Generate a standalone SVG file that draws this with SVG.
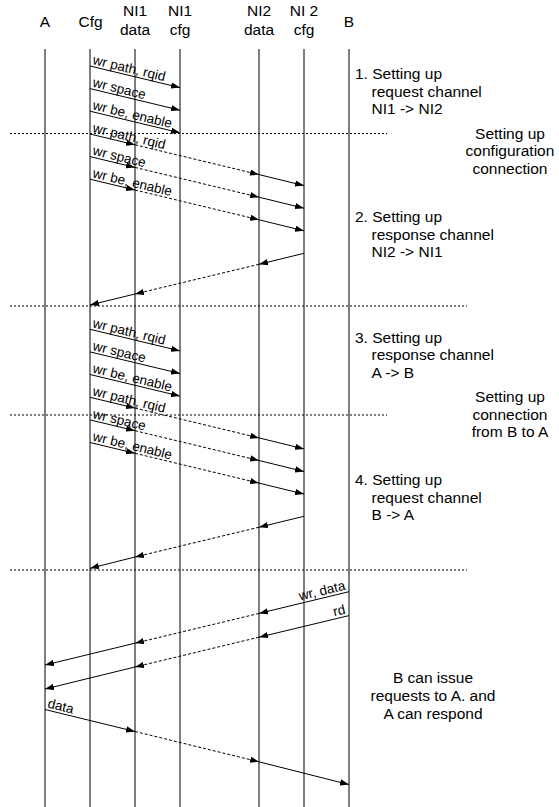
<svg xmlns="http://www.w3.org/2000/svg" width="559" height="807" viewBox="0 0 559 807">
<style>
text{font-family:"Liberation Sans",Arial,sans-serif;fill:#000}
.hd{font-size:15.5px;text-anchor:middle}
.nt{font-size:15.5px}
.ct{font-size:15.5px;text-anchor:middle}
.lb{font-size:13.5px}
.life{stroke:#000;stroke-width:1;fill:none}
.sep{stroke:#000;stroke-width:1;stroke-dasharray:2 2;fill:none}
.s{stroke:#000;stroke-width:1;fill:none;marker-end:url(#ah)}
.d{stroke:#000;stroke-width:1;fill:none;stroke-dasharray:3 2;marker-end:url(#ah)}
</style>
<defs>
<marker id="ah" viewBox="0 0 10 7" refX="10" refY="3.5" markerWidth="9" markerHeight="6.3" markerUnits="userSpaceOnUse" orient="auto">
<path d="M0,0 L10,3.5 L0,7 z" fill="#000"/>
</marker>
</defs>
<rect width="559" height="807" fill="#fff"/>
<g id="lifelines">
<g id="A"><text class="hd" x="45" y="27">A</text><line class="life" x1="45" y1="49" x2="45" y2="807"/></g>
<g id="Cfg"><text class="hd" x="90.5" y="27">Cfg</text><line class="life" x1="90" y1="49" x2="90" y2="807"/></g>
<g id="NI1data"><text class="hd" x="135" y="16">NI1</text><text class="hd" x="135" y="35">data</text><line class="life" x1="135" y1="49" x2="135" y2="807"/></g>
<g id="NI1cfg"><text class="hd" x="180" y="16">NI1</text><text class="hd" x="180" y="35">cfg</text><line class="life" x1="180" y1="49" x2="180" y2="807"/></g>
<g id="NI2data"><text class="hd" x="259" y="16">NI2</text><text class="hd" x="259" y="35">data</text><line class="life" x1="259" y1="49" x2="259" y2="807"/></g>
<g id="NI2cfg"><text class="hd" x="304" y="16">NI 2</text><text class="hd" x="304" y="35">cfg</text><line class="life" x1="304" y1="49" x2="304" y2="807"/></g>
<g id="B"><text class="hd" x="349" y="27">B</text><line class="life" x1="349" y1="49" x2="349" y2="807"/></g>
</g>
<g id="separators">
<line class="sep" x1="10" y1="133.5" x2="387" y2="133.5"/>
<line class="sep" x1="10" y1="306" x2="467" y2="306"/>
<line class="sep" x1="10" y1="415" x2="387" y2="415"/>
<line class="sep" x1="10" y1="570" x2="467" y2="570"/>
</g>
<g id="connectors">
<line class="s" x1="90" y1="66" x2="180" y2="87.6"/>
<line class="s" x1="90" y1="88.6" x2="180" y2="110.2"/>
<line class="s" x1="90" y1="111.2" x2="180" y2="132.8"/>
<line class="s" x1="90" y1="134" x2="135" y2="144.8"/>
<line class="d" x1="135" y1="144.8" x2="259" y2="174.6"/>
<line class="s" x1="259" y1="174.6" x2="304" y2="185.6"/>
<line class="s" x1="90" y1="156.6" x2="135" y2="167.4"/>
<line class="d" x1="135" y1="167.4" x2="259" y2="197.2"/>
<line class="s" x1="259" y1="197.2" x2="304" y2="208.2"/>
<line class="s" x1="90" y1="179.2" x2="135" y2="190"/>
<line class="d" x1="135" y1="190" x2="259" y2="219.8"/>
<line class="s" x1="259" y1="219.8" x2="304" y2="230.8"/>
<line class="s" x1="304" y1="253.3" x2="259" y2="264.3"/>
<line class="d" x1="259" y1="264.3" x2="135" y2="294"/>
<line class="s" x1="135" y1="294" x2="90" y2="305"/>
<line class="s" x1="90" y1="329.3" x2="180" y2="350.9"/>
<line class="s" x1="90" y1="351.9" x2="180" y2="373.5"/>
<line class="s" x1="90" y1="374.5" x2="180" y2="396.1"/>
<line class="s" x1="90" y1="397.3" x2="135" y2="408.1"/>
<line class="d" x1="135" y1="408.1" x2="259" y2="437.9"/>
<line class="s" x1="259" y1="437.9" x2="304" y2="448.9"/>
<line class="s" x1="90" y1="419.9" x2="135" y2="430.7"/>
<line class="d" x1="135" y1="430.7" x2="259" y2="460.5"/>
<line class="s" x1="259" y1="460.5" x2="304" y2="471.5"/>
<line class="s" x1="90" y1="442.5" x2="135" y2="453.3"/>
<line class="d" x1="135" y1="453.3" x2="259" y2="483.1"/>
<line class="s" x1="259" y1="483.1" x2="304" y2="494.1"/>
<line class="s" x1="304" y1="516.3" x2="259" y2="527.2"/>
<line class="d" x1="259" y1="527.2" x2="135" y2="557"/>
<line class="s" x1="135" y1="557" x2="90" y2="568.3"/>
<line class="s" x1="349" y1="591.7" x2="259" y2="613.4"/>
<line class="d" x1="259" y1="613.4" x2="135" y2="643.2"/>
<line class="s" x1="135" y1="643.2" x2="45" y2="665"/>
<line class="s" x1="349" y1="615.6" x2="259" y2="637.2"/>
<line class="d" x1="259" y1="637.2" x2="135" y2="667"/>
<line class="s" x1="135" y1="667" x2="45" y2="689"/>
<line class="s" x1="45" y1="709.5" x2="135" y2="731.5"/>
<line class="d" x1="135" y1="731.5" x2="259" y2="761.8"/>
<line class="s" x1="259" y1="761.8" x2="349" y2="784.6"/>
</g>
<g id="labels">
<text class="lb" transform="translate(92,64) rotate(13.5)">wr path, rqid</text>
<text class="lb" transform="translate(92,86.6) rotate(13.5)">wr space</text>
<text class="lb" transform="translate(92,109.2) rotate(13.5)">wr be, enable</text>
<text class="lb" transform="translate(92,132) rotate(13.5)">wr path, rqid</text>
<text class="lb" transform="translate(92,154.6) rotate(13.5)">wr space</text>
<text class="lb" transform="translate(92,177.2) rotate(13.5)">wr be, enable</text>
<text class="lb" transform="translate(92,327.3) rotate(13.5)">wr path, rqid</text>
<text class="lb" transform="translate(92,349.9) rotate(13.5)">wr space</text>
<text class="lb" transform="translate(92,372.5) rotate(13.5)">wr be, enable</text>
<text class="lb" transform="translate(92,395.3) rotate(13.5)">wr path, rqid</text>
<text class="lb" transform="translate(92,417.9) rotate(13.5)">wr space</text>
<text class="lb" transform="translate(92,440.5) rotate(13.5)">wr be, enable</text>
<text class="lb" text-anchor="end" transform="translate(346,589.5) rotate(-13.5)">wr, data</text>
<text class="lb" text-anchor="end" transform="translate(346,613.5) rotate(-13.5)">rd</text>
<text class="lb" transform="translate(47,707.5) rotate(13.5)">data</text>
</g>
<g id="notes">
<g id="note1"><text class="nt" x="355" y="79">1. Setting up</text><text class="nt" x="371.5" y="96.5">request channel</text><text class="nt" x="371.5" y="114">NI1 -&gt; NI2</text></g>
<g id="note-cfgconn"><text class="ct" x="510" y="138.5">Setting up</text><text class="ct" x="510" y="156">configuration</text><text class="ct" x="510" y="173.5">connection</text></g>
<g id="note2"><text class="nt" x="355" y="222">2. Setting up</text><text class="nt" x="371.5" y="239.5">response channel</text><text class="nt" x="371.5" y="257">NI2 -&gt; NI1</text></g>
<g id="note3"><text class="nt" x="355" y="342.5">3. Setting up</text><text class="nt" x="371.5" y="360">response channel</text><text class="nt" x="371.5" y="377.5">A -&gt; B</text></g>
<g id="note-conn"><text class="ct" x="510" y="402">Setting up</text><text class="ct" x="510" y="419.5">connection</text><text class="ct" x="510" y="437">from B to A</text></g>
<g id="note4"><text class="nt" x="355" y="485">4. Setting up</text><text class="nt" x="371.5" y="502.5">request channel</text><text class="nt" x="371.5" y="520">B -&gt; A</text></g>
<g id="note5"><text class="ct" x="433" y="683">B can issue</text><text class="ct" x="433" y="701">requests to A. and</text><text class="ct" x="433" y="719">A can respond</text></g>
</g>
</svg>
